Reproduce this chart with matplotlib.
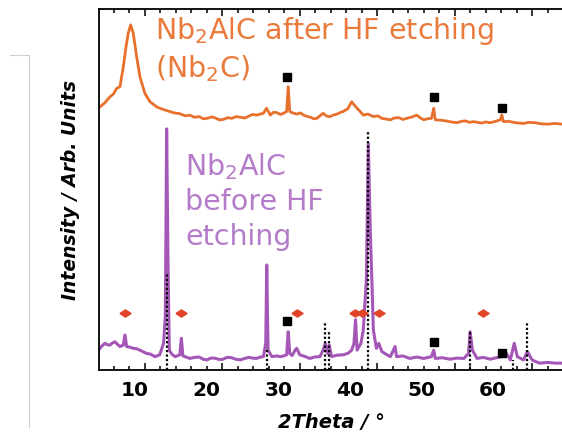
import numpy as np
import matplotlib.pyplot as plt
from matplotlib.lines import Line2D

plt.rcParams['font.family'] = ['DejaVu Sans']
plt.rcParams['mathtext.fontset'] = 'dejavusans'
plt.rcParams['mathtext.default'] = 'regular'

# after HF etching (Nb2C), offset trace
after_x = [4.19, 4.8, 5.48, 5.9, 6.34, 6.77, 7.20, 7.55, 7.84, 8.15, 8.49, 8.92, 9.35,
           9.99, 10.65, 11.5, 12.3, 13.2, 13.8, 14.5, 15.2, 15.8, 16.4, 17.0, 17.5,
           18.0, 18.6, 19.0, 19.6, 20.1, 20.7, 21.2, 21.8, 22.3, 22.9, 23.4, 23.9,
           24.4, 24.9, 25.3, 25.7, 26.2, 26.6, 27.0, 27.5, 27.9, 28.3, 28.5, 28.7,
           29.1, 29.6, 30.1, 30.5, 31.0, 31.4, 31.8, 32.2, 32.6, 33.0, 33.5, 33.9,
           34.3, 34.8, 35.2, 35.6, 36.2, 36.7, 37.0, 37.4, 37.8, 38.2, 38.8, 39.5,
           40.1, 40.6, 41.2, 41.7, 42.2, 42.8, 43.3, 43.8, 44.5, 45.1, 45.6, 46.0,
           46.5, 47.0, 47.3, 47.5, 48.2, 48.9, 49.6, 50.3, 50.9, 51.4, 51.9, 52.4,
           53.0, 53.5, 54.0, 54.6, 55.3, 55.9, 56.1, 56.3, 57.0, 57.6, 58.3, 58.9,
           59.6, 60.4, 61.2, 62.0, 62.9, 63.9]
after_y = [72.9, 74.0, 75.7, 76.4, 78.0, 78.5, 84.0, 89.5, 93.3, 95.6, 93.3, 86.8, 81.2,
           76.6, 74.3, 72.9, 72.2, 71.6, 71.2, 71.0, 70.4, 70.6, 70.0, 70.2, 69.6,
           69.7, 70.1, 69.9, 69.3, 69.4, 69.9, 69.7, 70.2, 70.0, 69.8, 70.3, 70.8,
           70.6, 70.9, 71.1, 72.5, 70.6, 71.4, 71.3, 70.8, 71.1, 71.6, 78.5, 71.6,
           71.2, 70.9, 71.2, 70.6, 70.2, 70.0, 69.6, 69.7, 70.4, 71.1, 70.3, 70.2,
           70.6, 70.9, 71.3, 71.6, 72.4, 74.3, 73.5, 72.5, 71.6, 70.6, 70.9, 70.2,
           70.4, 69.7, 69.5, 69.3, 69.8, 69.9, 69.4, 69.7, 70.1, 70.6, 69.8, 69.3,
           69.6, 69.7, 72.5, 69.3, 69.2, 69.0, 68.7, 68.5, 68.9, 69.0, 68.6, 68.8,
           68.6, 68.4, 68.7, 68.5, 68.9, 69.3, 70.6, 68.8, 68.9, 68.6, 68.4, 68.3,
           68.6, 68.5, 68.2, 68.1, 68.3, 68.1]

# before HF etching (Nb2AlC)
before_x = [4.19, 4.5, 4.84, 5.15, 5.48, 5.8, 6.13, 6.45, 6.77, 7.20, 7.41, 7.63, 8.1,
            8.49, 8.9, 9.35, 9.8, 10.2, 10.7, 11.3, 11.9, 12.4, 12.63, 12.8, 12.97,
            13.14, 13.5, 13.9, 14.5, 14.7, 14.9, 15.3, 15.8, 16.4, 17.0, 17.5, 18.0,
            18.5, 19.0, 19.6, 20.1, 20.6, 21.2, 21.7, 22.3, 22.9, 23.4, 23.9, 24.4,
            24.9, 25.3, 25.6, 25.73, 25.9, 26.4, 27.0, 27.5, 27.9, 28.3, 28.5, 28.7,
            29.0, 29.4, 29.6, 30.0, 30.6, 31.3, 31.9, 32.6, 33.0, 33.3, 33.6, 33.8,
            34.1, 34.8, 35.6, 36.2, 36.7, 37.0, 37.2, 37.4, 37.9, 38.2, 38.6, 38.85,
            39.1, 39.3, 39.5, 39.9, 40.2, 40.6, 41.2, 41.7, 42.3, 42.5, 43.3, 44.2,
            45.1, 46.0, 47.0, 47.3, 47.5, 48.4, 49.4, 50.3, 51.2, 51.8, 52.0, 52.3,
            52.9, 53.7, 54.6, 55.4, 56.1, 56.7, 57.2, 57.7, 58.1, 58.9, 59.4, 60.0,
            60.5, 61.0, 62.0, 63.0, 63.9]
before_y = [6.0, 6.8, 7.4, 7.0, 6.9, 7.5, 7.8, 7.1, 6.5, 6.9, 9.7, 6.5, 6.3,
            6.0, 5.9, 5.5, 5.0, 4.6, 4.4, 3.7, 4.2, 7.4, 14.8, 66.8, 30.5,
            5.5, 4.3, 3.7, 4.2, 8.8, 3.9, 3.6, 3.2, 3.5, 3.6, 3.0, 2.8,
            3.3, 3.3, 2.9, 3.0, 3.5, 3.4, 3.0, 2.8, 3.2, 3.5, 3.3, 3.2,
            3.6, 3.7, 7.4, 29.1, 5.5, 3.7, 3.9, 3.7, 3.9, 4.2, 10.6, 4.6,
            4.0, 5.5, 6.0, 4.2, 3.8, 3.2, 3.6, 3.7, 5.5, 7.4, 4.6, 6.9,
            3.7, 4.1, 4.2, 4.6, 5.5, 7.4, 13.9, 5.5, 7.4, 11.1, 25.0, 62.8,
            38.8, 25.4, 11.1, 6.0, 7.4, 5.1, 4.3, 3.7, 6.5, 3.7, 3.9, 3.2,
            3.6, 3.2, 3.7, 5.5, 3.2, 3.4, 3.0, 3.3, 3.2, 4.6, 10.6, 5.5,
            3.2, 3.5, 3.0, 3.4, 3.7, 4.6, 2.8, 7.4, 3.7, 2.8, 5.1, 2.8,
            2.3, 1.9, 2.1, 1.9, 1.9]

# reference pattern (dotted sticks)
ref_x = [12.8, 25.7, 33.3, 33.8, 38.85, 52.0, 57.5, 59.3]
ref_y = [26.8, 5.5, 12.9, 10.6, 66.0, 10.6, 2.8, 12.9]

# phase markers
square_after_x = [28.4, 47.3, 56.1]
square_after_y = [81.2, 75.7, 72.5]
square_before_x = [28.4, 47.3, 56.1]
square_before_y = [13.6, 7.8, 4.8]
diamond_x = [7.41, 14.7, 29.6, 37.1, 38.0, 40.2, 53.7]
diamond_y = [15.9] * len(diamond_x)

tick_labels = [10, 20, 30, 40, 50, 60]

fig = plt.figure(figsize=(5.62, 4.32), dpi=100)
ax = fig.add_axes([99 / 562, 62 / 432, 464 / 562, 361 / 432])

orange = '#E8702C'
purple = '#A557B8'

ax.plot(after_x, after_y, color=orange, lw=2.0)
ax.plot(before_x, before_y, color=purple, lw=2.2)
ax.vlines(ref_x, 0, ref_y, colors='k', linestyles=(0, (1, 1)), lw=1.6, zorder=3)
ax.plot(square_after_x, square_after_y, 's', color='k', ms=5.5, zorder=4)
ax.plot(square_before_x, square_before_y, 's', color='k', ms=5.5, zorder=4)
flat_diamond = [(-1, 0), (0, 0.65), (1, 0), (0, -0.65), (-1, 0)]
ax.plot(diamond_x, diamond_y, marker=flat_diamond, ls='none', color='#E2442A',
        ms=8, zorder=4)

ax.text(11.3, 91.6, 'Nb$_2$AlC after HF etching', color='#EA7A3C', fontsize=20.5)
ax.text(11.3, 81.2, '(Nb$_2$C)', color='#EA7A3C', fontsize=20.5)
ax.text(15.2, 54.0, 'Nb$_2$AlC', color='#B47CC8', fontsize=20.5)
ax.text(15.2, 44.3, 'before HF', color='#B47CC8', fontsize=20.5)
ax.text(15.2, 34.6, 'etching', color='#B47CC8', fontsize=20.5)

ax.set_xlim(4.06, 64)
ax.set_ylim(0, 100)
ax.set_yticks([])
ax.set_xticks([])
ax.spines['right'].set_visible(False)
for side in ['left', 'top', 'bottom']:
    ax.spines[side].set_linewidth(1.3)

# tick marks on top and bottom edges
for side in ['top', 'bottom']:
    edge = ax.secondary_xaxis(side)
    edge.set_xticks(tick_labels, labels=[])
    edge.set_xticks(np.arange(4, 66, 2), minor=True)
    edge.tick_params(which='both', direction='in', width=1.1, color='k')
    edge.tick_params(which='major', length=5)
    edge.tick_params(which='minor', length=3)
    edge.spines[side].set_visible(False)

# tick labels are printed slightly compressed relative to the tick marks
sec = ax.secondary_xaxis('bottom', functions=(lambda x: 10 + (x - 8.71) / 0.925,
                                              lambda v: 8.71 + (v - 10) * 0.925))
sec.set_xticks(tick_labels)
sec.tick_params(length=0, labelsize=14.5, pad=8)
for lab in sec.get_xticklabels():
    lab.set_fontweight('bold')
sec.spines['bottom'].set_visible(False)
sec.set_xlabel('2Theta / °', fontsize=14, fontweight='bold', style='italic', labelpad=9)

ax.set_ylabel('Intensity / Arb. Units', fontsize=13.5, fontweight='bold',
              style='italic', labelpad=14)

fig.add_artist(Line2D([29 / 562, 29 / 562], [1 - 55 / 432, 1 - 427 / 432],
                      color='#cfcfcf', lw=0.8))
fig.add_artist(Line2D([10 / 562, 29 / 562], [1 - 55 / 432, 1 - 55 / 432],
                      color='#cfcfcf', lw=0.8))

fig.savefig('out.png', dpi=100)
